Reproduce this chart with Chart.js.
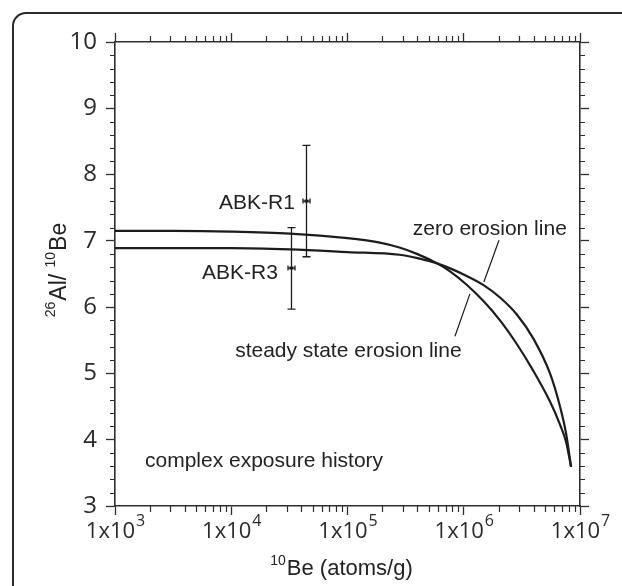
<!DOCTYPE html>
<html><head><meta charset="utf-8">
<script src="https://cdn.jsdelivr.net/npm/chart.js@4.4.0/dist/chart.umd.min.js"></script>
<style>
html,body{margin:0;padding:0;background:#fff;overflow:hidden;}
#wrap{position:relative;width:622px;height:586px;overflow:hidden;background:#fff;}
#frame{position:absolute;left:12px;top:12px;width:800px;height:800px;border-left:2px solid #2b2b2b;border-top:2px solid #2b2b2b;border-top-left-radius:14px;}
canvas{position:absolute;left:0;top:0;}
</style></head><body>
<div id="wrap"><div id="frame"></div><canvas id="c" width="622" height="586"></canvas></div>
<script>
// ---- data ----
const xMajorTicks = [1e3, 1e4, 1e5, 1e6, 1e7];
const xTickMantissa = '1x10';
const xTickExponents = ['3', '4', '5', '6', '7'];
const yMajorTicks = [3, 4, 5, 6, 7, 8, 9, 10];

const zeroErosionX = [1e3, 3.2e3, 1e4, 3.2e4, 1e5, 2.8e5, 4.0e5, 5.9e5, 1.06e6, 1.47e6, 2.05e6, 2.85e6, 3.96e6, 5.52e6, 6.73e6, 7.59e6, 8.38e6];
const zeroErosionY = [6.89, 6.89, 6.89, 6.87, 6.83, 6.79, 6.74, 6.66, 6.471, 6.335, 6.145, 5.893, 5.529, 5.00, 4.502, 4.095, 3.59];

const steadyStateX = [1e3, 3.2e3, 1e4, 3.2e4, 1e5, 1.8e5, 2.8e5, 4.0e5, 5.9e5, 7.62e5, 1.06e6, 1.47e6, 2.05e6, 2.85e6, 3.96e6, 5.52e6, 6.73e6, 7.59e6, 8.38e6];
const steadyStateY = [7.15, 7.15, 7.14, 7.11, 7.04, 6.98, 6.90, 6.80, 6.66, 6.54, 6.338, 6.095, 5.801, 5.448, 5.042, 4.576, 4.229, 3.967, 3.59];

const sampleNames = ['ABK-R1', 'ABK-R3'];
const sampleX = [4.4e4, 3.24e4];
const sampleY = [7.60, 6.59];
const sampleLow = [6.76, 5.97];
const sampleHigh = [8.44, 7.20];

const noteTexts = ['ABK-R1', 'ABK-R3', 'zero erosion line', 'steady state erosion line', 'complex exposure history'];
const noteX = [3.53e4, 2.52e4, 3.64e5, 1.08e4, 1.81e3];
const noteY = [7.487, 6.424, 7.087, 5.252, 3.593];
const noteAlign = ['right', 'right', 'left', 'left', 'left'];

const leaderX1 = [2.01e6, 8.4e5];
const leaderY1 = [7.01, 5.56];
const leaderX2 = [1.49e6, 1.13e6];
const leaderY2 = [6.38, 6.20];

// axis titles: [text, isSuperscript]
const xTitleParts = [['10', true], ['Be (atoms/g)', false]];
const yTitleParts = [['26', true], ['Al/ ', false], ['10', true], ['Be', false]];

// ---- helpers ----
const INK = '#1c1c1c';
const AXIS = '#2e2e2e';
const TICKFONT = '"Open Sans", "DejaVu Sans", sans-serif';
const TEXTFONT = '"Liberation Sans", Arial, sans-serif';

const yMinorTicks = [];
for (let v = 3; v < 10; v++) for (let k = 1; k < 5; k++) yMinorTicks.push(v + k * 0.2);
const xMinorTicks = [];
for (let d = 1e3; d < 1e7; d *= 10) for (let m = 2; m <= 9; m++) xMinorTicks.push(m * d);

function toXY(xs, ys) { return xs.map((v, i) => ({ x: v, y: ys[i] })); }

function drawParts(ctx, parts, cx, baseline, big, small, rise) {
  let total = 0;
  const widths = parts.map(p => {
    ctx.font = (p[1] ? small : big) + 'px ' + TEXTFONT;
    const w = ctx.measureText(p[0]).width + (p[1] ? 1 : 0);
    total += w; return w;
  });
  let x = cx - total / 2;
  parts.forEach((p, i) => {
    ctx.font = (p[1] ? small : big) + 'px ' + TEXTFONT;
    ctx.fillText(p[0], x, p[1] ? baseline - rise : baseline);
    x += widths[i];
  });
}

const decor = {
  id: 'decor',
  afterDraw(chart) {
    const ctx = chart.ctx;
    const sx = chart.scales.x, sy = chart.scales.y;
    const a = chart.chartArea;
    ctx.save();
    // minor ticks
    ctx.strokeStyle = AXIS;
    ctx.lineWidth = 1.2;
    ctx.beginPath();
    yMinorTicks.forEach(v => {
      const py = Math.round(sy.getPixelForValue(v)) + 0.5;
      ctx.moveTo(a.left, py); ctx.lineTo(a.left - 5, py);
      ctx.moveTo(a.right, py); ctx.lineTo(a.right + 5, py);
    });
    xMinorTicks.forEach(v => {
      const px = Math.round(sx.getPixelForValue(v)) + 0.5;
      ctx.moveTo(px, a.bottom); ctx.lineTo(px, a.bottom + 6);
      ctx.moveTo(px, a.top); ctx.lineTo(px, a.top - 6);
    });
    ctx.stroke();

    // x tick labels with superscript exponents
    ctx.fillStyle = '#2a2a2a';
    ctx.textBaseline = 'alphabetic';
    ctx.textAlign = 'left';
    xMajorTicks.forEach((v, i) => {
      const px = sx.getPixelForValue(v);
      ctx.font = '22px ' + TICKFONT;
      const w1 = ctx.measureText(xTickMantissa).width;
      ctx.font = '16px ' + TICKFONT;
      const w2 = ctx.measureText(xTickExponents[i]).width;
      const start = px - (w1 + w2) / 2;
      ctx.font = '22px ' + TICKFONT;
      ctx.fillText(xTickMantissa, start, a.bottom + 32);
      ctx.font = '16px ' + TICKFONT;
      ctx.fillText(xTickExponents[i], start + w1 + 1, a.bottom + 20);
    });

    // axis titles
    ctx.fillStyle = '#222';
    ctx.textAlign = 'left';
    ctx.textBaseline = 'alphabetic';
    drawParts(ctx, xTitleParts, (a.left + a.right) / 2 - 6, 575, 22, 14, 10);
    ctx.save();
    ctx.translate(66, (a.top + a.bottom) / 2 - 4);
    ctx.rotate(-Math.PI / 2);
    drawParts(ctx, yTitleParts, 0, 0, 23, 14, 11);
    ctx.restore();

    // error bars
    ctx.strokeStyle = INK;
    ctx.fillStyle = INK;
    ctx.lineWidth = 1.3;
    sampleX.forEach((v, i) => {
      const px = Math.round(sx.getPixelForValue(v)) + 0.5;
      const pc = sy.getPixelForValue(sampleY[i]);
      const pl = sy.getPixelForValue(sampleLow[i]);
      const ph = sy.getPixelForValue(sampleHigh[i]);
      ctx.beginPath();
      ctx.moveTo(px, pl); ctx.lineTo(px, ph);
      ctx.moveTo(px - 4, pl); ctx.lineTo(px + 4, pl);
      ctx.moveTo(px - 4, ph); ctx.lineTo(px + 4, ph);
      ctx.moveTo(px - 3.5, pc - 2.5); ctx.lineTo(px - 3.5, pc + 2.5);
      ctx.moveTo(px + 3.5, pc - 2.5); ctx.lineTo(px + 3.5, pc + 2.5);
      ctx.moveTo(px - 3.5, pc); ctx.lineTo(px + 3.5, pc);
      ctx.stroke();
      ctx.fillRect(px - 2, pc - 1.5, 4, 3);
    });

    // leader lines
    ctx.lineWidth = 1.2;
    ctx.beginPath();
    leaderX1.forEach((v, i) => {
      ctx.moveTo(sx.getPixelForValue(v), sy.getPixelForValue(leaderY1[i]));
      ctx.lineTo(sx.getPixelForValue(leaderX2[i]), sy.getPixelForValue(leaderY2[i]));
    });
    ctx.stroke();

    // annotation texts
    ctx.fillStyle = '#222';
    ctx.font = '21px ' + TEXTFONT;
    noteTexts.forEach((t, i) => {
      ctx.textAlign = noteAlign[i];
      ctx.fillText(t, sx.getPixelForValue(noteX[i]), sy.getPixelForValue(noteY[i]));
    });
    ctx.restore();
  }
};

function majorTicks(list) {
  return function (scale) { scale.ticks = list.map(v => ({ value: v })); };
}

const gridOpts = {
  display: true, drawOnChartArea: false, drawTicks: true,
  tickLength: 9, tickWidth: 1.3, tickColor: AXIS, color: AXIS
};
const borderOpts = { display: true, color: AXIS, width: 1.6 };

new Chart(document.getElementById('c'), {
  type: 'scatter',
  data: {
    datasets: [
      { label: 'zero erosion line', data: toXY(zeroErosionX, zeroErosionY), showLine: true,
        borderColor: INK, borderWidth: 2.2, pointRadius: 0, cubicInterpolationMode: 'monotone', fill: false },
      { label: 'steady state erosion line', data: toXY(steadyStateX, steadyStateY), showLine: true,
        borderColor: INK, borderWidth: 2.2, pointRadius: 0, cubicInterpolationMode: 'monotone', fill: false },
      { label: 'samples', data: toXY(sampleX, sampleY), showLine: false, pointRadius: 0, borderColor: INK }
    ]
  },
  options: {
    responsive: false,
    animation: false,
    devicePixelRatio: 1,
    layout: { padding: 0 },
    plugins: { legend: { display: false }, tooltip: { enabled: false } },
    scales: {
      x: {
        type: 'logarithmic', position: 'bottom', min: 1e3, max: 1e7,
        afterBuildTicks: majorTicks(xMajorTicks),
        afterFit: s => { s.height = 80; },
        ticks: { display: false },
        grid: gridOpts, border: borderOpts
      },
      x2: {
        type: 'logarithmic', position: 'top', min: 1e3, max: 1e7,
        afterBuildTicks: majorTicks(xMajorTicks),
        afterFit: s => { s.height = 42; },
        ticks: { display: false },
        grid: gridOpts, border: borderOpts
      },
      y: {
        type: 'linear', position: 'left', min: 3, max: 10,
        afterBuildTicks: majorTicks(yMajorTicks),
        afterFit: s => { s.width = 115; },
        ticks: { color: '#2a2a2a', padding: 9, font: { family: TICKFONT, size: 24 } },
        grid: gridOpts, border: borderOpts
      },
      y2: {
        type: 'linear', position: 'right', min: 3, max: 10,
        afterBuildTicks: majorTicks(yMajorTicks),
        afterFit: s => { s.width = 42; },
        ticks: { display: false },
        grid: gridOpts, border: borderOpts
      }
    }
  },
  plugins: [decor]
});
</script>
</body></html>
